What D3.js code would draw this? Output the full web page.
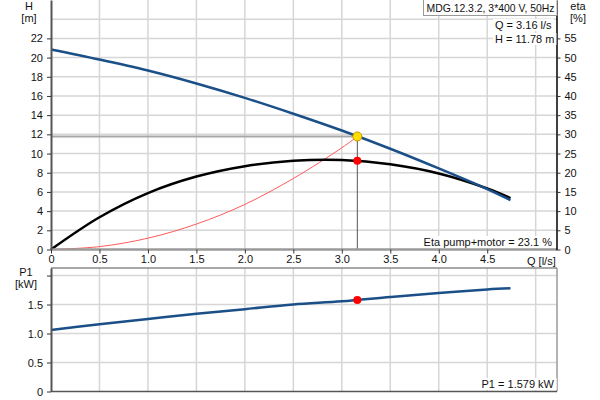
<!DOCTYPE html>
<html>
<head>
<meta charset="utf-8">
<script src="https://cdn.jsdelivr.net/npm/d3@7"></script>
<style>
  html, body { margin: 0; padding: 0; background: #fff; }
  svg { display: block; font-family: "Liberation Sans", Arial, sans-serif; }
  text { font-size: 11px; fill: #111; }
</style>
</head>
<body>
<svg id="chart" width="600" height="400"></svg>
<script>
// ---- data ----
const flowQ   = [0, 0.5, 1, 1.5, 2, 2.5, 3, 3.5, 4, 4.5, 4.74];
const headH   = [20.85, 19.8, 18.65, 17.3, 15.8, 14.15, 12.4, 10.5, 8.45, 6.3, 5.15];
const etaPct  = [0, 8.4, 14.7, 19.0, 21.7, 23.1, 23.3, 22.2, 19.8, 15.9, 13.4];
const p1kW    = [1.06, 1.16, 1.25, 1.34, 1.42, 1.50, 1.555, 1.63, 1.70, 1.76, 1.78];
const sysQ    = [0, 0.5, 1, 1.5, 2, 2.5, 3, 3.16];
const sysH    = [0, 0.3, 1.18, 2.65, 4.7, 7.4, 10.6, 11.78];
const dutyQ = 3.16, dutyH = 11.78, dutyEta = 23.1, dutyP1 = 1.579;
const qTicks   = [0, 0.5, 1.0, 1.5, 2.0, 2.5, 3.0, 3.5, 4.0, 4.5];
const hTicks   = [0, 2, 4, 6, 8, 10, 12, 14, 16, 18, 20, 22];
const etaTicks = [0, 5, 10, 15, 20, 25, 30, 35, 40, 45, 50, 55];
const pTicks   = [0, 0.5, 1.0, 1.5, 2.0];
const title = "MDG.12.3.2, 3*400 V, 50Hz";

const svg = d3.select("#chart");
const X0 = 51, X1 = 557;
const x = d3.scaleLinear().domain([0, 5.22]).range([X0, X1]);
const yH = d3.scaleLinear().domain([0, 26]).range([249.5, 0]);
const yE = d3.scaleLinear().domain([0, 65]).range([249.5, 0]);
const yP = d3.scaleLinear().domain([0, 2.13]).range([391.5, 268]);

const gridC = "#d6d6d6";
// ---- grids ----
const vGrid = [0.5,1,1.5,2,2.5,3,3.5,4,4.5,5];
svg.append("g").selectAll("line").data(vGrid).join("line")
  .attr("x1", d => x(d)).attr("x2", d => x(d)).attr("y1", 0).attr("y2", yH(0))
  .attr("stroke", gridC).attr("stroke-width", 1.5);
svg.append("g").selectAll("line").data([2,4,6,8,10,12,14,16,18,20,22,24]).join("line")
  .attr("x1", X0).attr("x2", X1).attr("y1", d => yH(d)).attr("y2", d => yH(d))
  .attr("stroke", gridC).attr("stroke-width", 1.5);
svg.append("g").selectAll("line").data(vGrid).join("line")
  .attr("x1", d => x(d)).attr("x2", d => x(d)).attr("y1", yP.range()[1]).attr("y2", yP(0))
  .attr("stroke", gridC).attr("stroke-width", 1.5);
svg.append("g").selectAll("line").data([0.5,1,1.5,2]).join("line")
  .attr("x1", X0).attr("x2", X1).attr("y1", d => yP(d)).attr("y2", d => yP(d))
  .attr("stroke", gridC).attr("stroke-width", 1.5);

// bottom chart frame top/right
svg.append("line").attr("x1", X0).attr("x2", X1).attr("y1", 268).attr("y2", 268).attr("stroke", "#8a8a8a").attr("stroke-width", 1.5);
svg.append("line").attr("x1", X1).attr("x2", X1).attr("y1", 268).attr("y2", yP(0)).attr("stroke", "#9a9a9a").attr("stroke-width", 1.5);

// ---- duty guide lines ----
svg.append("line").attr("x1", X0).attr("x2", x(dutyQ)).attr("y1", yH(dutyH)).attr("y2", yH(dutyH))
  .attr("stroke", "#a8a8a8").attr("stroke-width", 2);
svg.append("line").attr("x1", x(dutyQ)).attr("x2", x(dutyQ)).attr("y1", yH(dutyH)).attr("y2", yH(0))
  .attr("stroke", "#555").attr("stroke-width", 1);

// ---- curves ----
const zip = (a, b) => a.map((v, i) => [v, b[i]]);
const crv = d3.curveCatmullRom.alpha(0.5);
const lineH = d3.line().x(d => x(d[0])).y(d => yH(d[1])).curve(crv);
const lineE = d3.line().x(d => x(d[0])).y(d => yE(d[1])).curve(crv);
const lineP = d3.line().x(d => x(d[0])).y(d => yP(d[1])).curve(crv);

svg.append("path").attr("d", lineH(zip(sysQ, sysH))).attr("fill", "none").attr("stroke", "#ff5a5a").attr("stroke-width", 1);
svg.append("path").attr("d", lineE(zip(flowQ, etaPct))).attr("fill", "none").attr("stroke", "#000").attr("stroke-width", 2.5);
svg.append("path").attr("d", lineH(zip(flowQ, headH))).attr("fill", "none").attr("stroke", "#1b4f88").attr("stroke-width", 2.5);
svg.append("path").attr("d", lineP(zip(flowQ, p1kW))).attr("fill", "none").attr("stroke", "#1b4f88").attr("stroke-width", 2.5);

// ---- axes ----
function styleAxis(g, color, w) {
  g.select(".domain").attr("stroke", color).attr("stroke-width", w);
  g.selectAll(".tick line").attr("stroke", "#333");
  g.selectAll(".tick text").attr("fill", "#111").style("font-size", "11px").style("font-family", "Liberation Sans, Arial, sans-serif");
}
const fmtQ = d => d === 0 ? "0" : d3.format(".1f")(d);
// top chart x axis
const gx = svg.append("g").attr("transform", `translate(0,${yH(0)})`)
  .call(d3.axisBottom(x).tickValues(qTicks).tickFormat(fmtQ).tickSize(4).tickPadding(2).tickSizeOuter(0));
gx.select(".domain").attr("d", `M${X0},0H${X1}`);
styleAxis(gx, "#9a9a9a", 2.5);
svg.append("text").attr("x", 527).attr("y", yH(0) + 15).text("Q [l/s]");

// left H axis
const gy = svg.append("g").attr("transform", `translate(${X0},0)`)
  .call(d3.axisLeft(yH).tickValues(hTicks).tickSize(4).tickPadding(4).tickSizeOuter(0));
styleAxis(gy, "#555", 2);
// right eta axis
const ge = svg.append("g").attr("transform", `translate(${X1 - 0.5},0)`)
  .call(d3.axisRight(yE).tickValues(etaTicks).tickSize(4).tickPadding(4).tickSizeOuter(0));
styleAxis(ge, "#000", 1.5);

// bottom chart axes
const gp = svg.append("g").attr("transform", `translate(${X0},0)`)
  .call(d3.axisLeft(yP).tickValues(pTicks).tickFormat(d => d === 0 ? "0" : (d === 2 ? "" : d3.format(".1f")(d))).tickSize(4).tickPadding(4).tickSizeOuter(0));
styleAxis(gp, "#555", 2);
svg.append("line").attr("x1", X0).attr("x2", X1).attr("y1", yP(0)).attr("y2", yP(0)).attr("stroke", "#555").attr("stroke-width", 1.5);

// ---- axis titles ----
svg.append("text").attr("x", 29).attr("y", 10).attr("text-anchor", "middle").text("H");
svg.append("text").attr("x", 29).attr("y", 22).attr("text-anchor", "middle").text("[m]");
svg.append("text").attr("x", 578).attr("y", 10).attr("text-anchor", "middle").text("eta");
svg.append("text").attr("x", 578).attr("y", 22).attr("text-anchor", "middle").text("[%]");
svg.append("text").attr("x", 26).attr("y", 276).attr("text-anchor", "middle").text("P1");
svg.append("text").attr("x", 26).attr("y", 288).attr("text-anchor", "middle").text("[kW]");

// ---- points ----
svg.append("circle").attr("cx", x(dutyQ)).attr("cy", yE(dutyEta)).attr("r", 4).attr("fill", "#ff0000");
svg.append("circle").attr("cx", x(dutyQ)).attr("cy", yP(dutyP1)).attr("r", 4).attr("fill", "#ff0000");
svg.append("circle").attr("cx", x(dutyQ)).attr("cy", yH(dutyH)).attr("r", 4.5).attr("fill", "#ffe000").attr("stroke", "#d09000").attr("stroke-width", 1);

// ---- labels with white background ----
function label(txt, xx, yy, anchor) {
  const g = svg.append("g");
  const r = g.append("rect").attr("fill", "#fff");
  const t = g.append("text").attr("x", xx).attr("y", yy).attr("text-anchor", anchor || "start").text(txt);
  const b = t.node().getBBox();
  r.attr("x", b.x - 2).attr("y", b.y).attr("width", b.width + 4).attr("height", b.height);
  return t;
}
label(`Q = ${dutyQ} l/s`, 495, 29);
label(`H = ${dutyH} m`, 495, 43);
label(`Eta pump+motor = ${dutyEta} %`, 552, 246, "end");
label(`P1 = ${dutyP1} kW`, 554, 388, "end");

// title box
const tg = svg.append("g");
const tr = tg.append("rect").attr("fill", "#fff").attr("stroke", "#999").attr("stroke-width", 1);
const tt = tg.append("text").attr("x", 426.5).attr("y", 11.5)
  .attr("textLength", 128).attr("lengthAdjust", "spacingAndGlyphs").text(title);
tr.attr("x", 423.5).attr("y", -1).attr("width", X1 - 423.5).attr("height", 16.5);
</script>
</body>
</html>
